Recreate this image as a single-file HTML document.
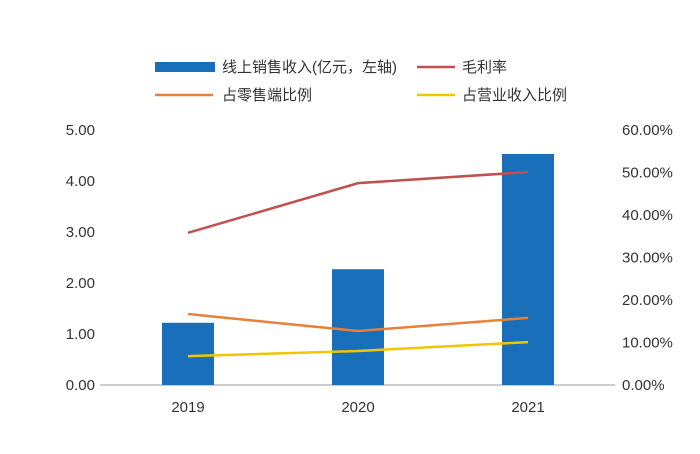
<!DOCTYPE html>
<html><head><meta charset="utf-8">
<style>
body{margin:0;background:#fff;}
svg text{font-family:"Liberation Sans","Noto Sans CJK SC",sans-serif;fill:#333;}
</style></head>
<body>
<svg id="chart" width="700" height="449" viewBox="0 0 700 449" xmlns="http://www.w3.org/2000/svg">
<g id="legend">
  <g><rect x="155" y="62" width="60" height="10" fill="#1a6fba"/><text x="222" y="72" font-size="15">线上销售收入(亿元，左轴)</text></g>
  <g><line x1="417" y1="67" x2="455" y2="67" stroke="#c0504d" stroke-width="2.5"/><text x="462" y="72" font-size="15">毛利率</text></g>
  <g><line x1="155" y1="95" x2="213" y2="95" stroke="#e8803a" stroke-width="2.5"/><text x="222" y="100" font-size="15">占零售端比例</text></g>
  <g><line x1="417" y1="95" x2="455" y2="95" stroke="#f2c500" stroke-width="2.5"/><text x="462" y="100" font-size="15">占营业收入比例</text></g>
</g>
<g id="axes"></g>
<g id="marks"></g>
</svg>
<script>
const categories = ["2019","2020","2021"];
const onlineRevenue = [1.22, 2.27, 4.53];
const grossMargin = [35.8, 47.5, 50.1];
const retailShare = [16.7, 12.7, 15.8];
const revenueShare = [6.8, 8.0, 10.1];
const leftTicks = ["0.00","1.00","2.00","3.00","4.00","5.00"];
const rightTicks = ["0.00%","10.00%","20.00%","30.00%","40.00%","50.00%","60.00%"];

const NS="http://www.w3.org/2000/svg";
const y0=385, yTop=130, xL=100, xR=615;
const yL = v => y0 - (v/5)*(y0-yTop);
const yR = v => y0 - (v/60)*(y0-yTop);
const xC = i => 188 + 170*i;
function mk(tag, attrs, parent){const e=document.createElementNS(NS,tag);for(const k in attrs)e.setAttribute(k,attrs[k]);parent.appendChild(e);return e;}
const axes=document.getElementById('axes'), marks=document.getElementById('marks');

let ax=mk('line',{x1:xL,y1:y0,x2:xR,y2:y0,stroke:'#bbb','stroke-width':1.5},axes);


leftTicks.forEach(t=>{
  const e=mk('text',{x:95,y:yL(parseFloat(t))+5,'font-size':15,'text-anchor':'end'},axes);e.textContent=t;
  
  
});
rightTicks.forEach(t=>{
  const e=mk('text',{x:622,y:yR(parseFloat(t))+5,'font-size':15},axes);e.textContent=t;
  
  
});
categories.forEach((c,i)=>{
  const e=mk('text',{x:xC(i),y:412,'font-size':15,'text-anchor':'middle'},axes);e.textContent=c;
  
  
});
onlineRevenue.forEach((v,i)=>{
  const b=mk('rect',{x:xC(i)-26,y:yL(v),width:52,height:y0-yL(v),fill:'#1a6fba'},marks);
  
  
});
function line(arr,color,name){
  const p=mk('polyline',{points:arr.map((v,i)=>xC(i)+','+yR(v)).join(' '),fill:'none',stroke:color,'stroke-width':2.5},marks);
  
  
}
line(grossMargin,'#c0504d','gross-margin-line');
line(retailShare,'#e8803a','retail-share-line');
line(revenueShare,'#f2c500','revenue-share-line');
</script>
</body></html>
